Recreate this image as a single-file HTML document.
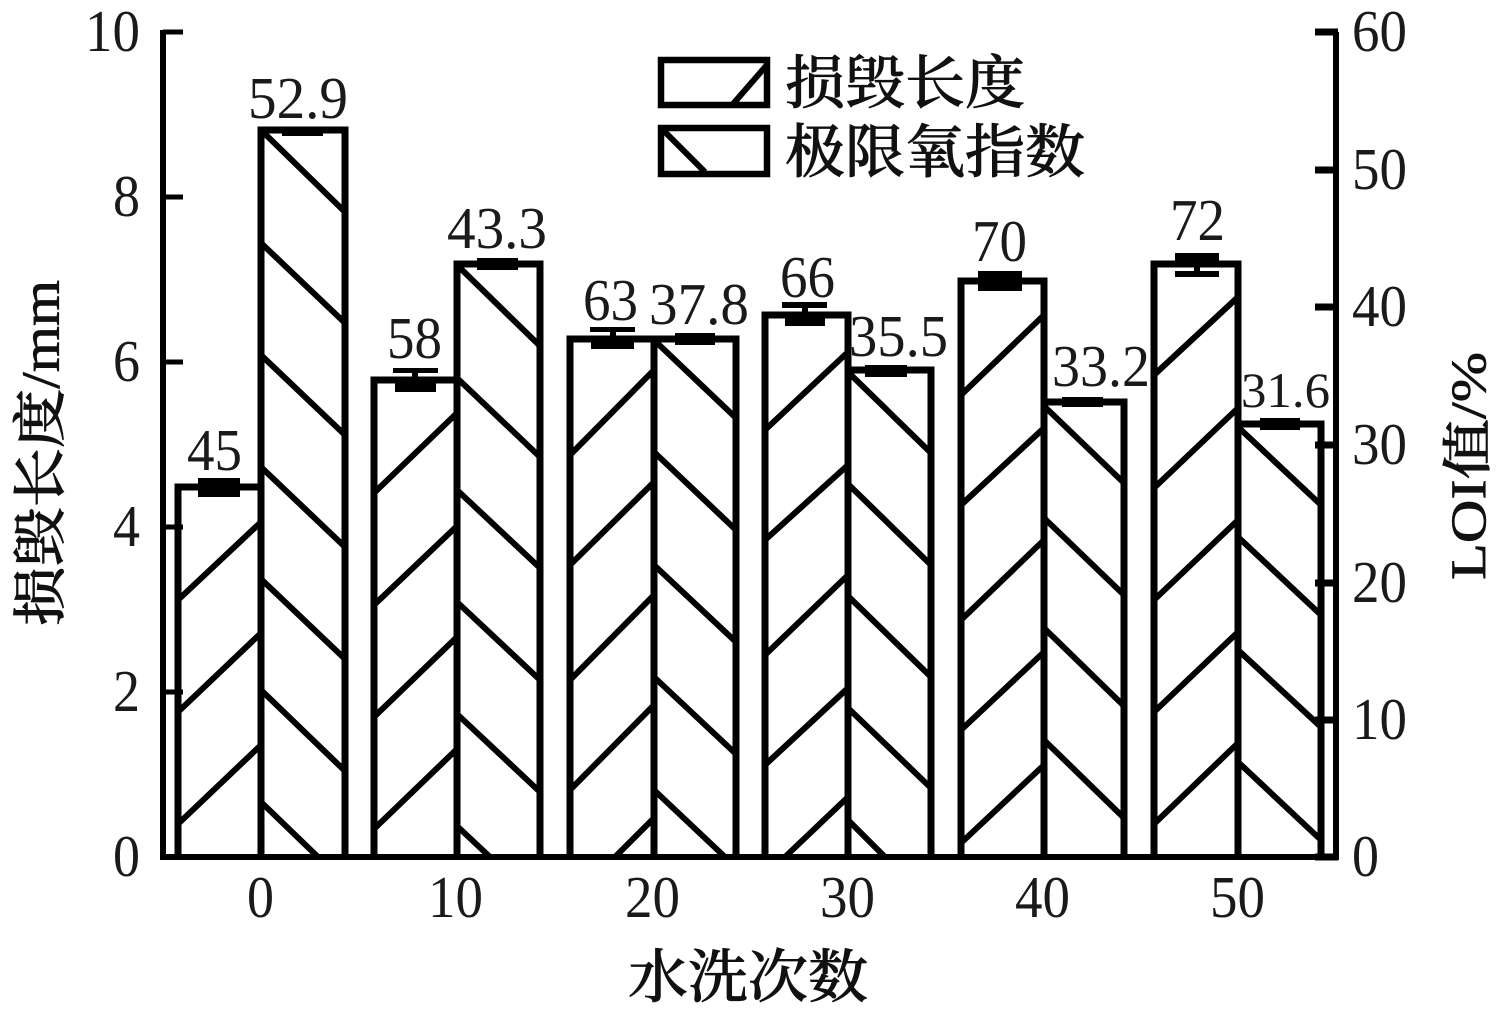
<!DOCTYPE html>
<html><head><meta charset="utf-8"><style>
html,body{margin:0;padding:0;background:#fff;width:1500px;height:1018px;overflow:hidden}
svg{display:block}
.n{font-family:"Liberation Serif","Noto Serif CJK SC",serif;font-size:59px;fill:#1a1a1a}
.c{font-family:"Liberation Serif","Noto Serif CJK SC",serif;font-size:56px;fill:#111;font-weight:500;stroke:#111;stroke-width:.7px}
</style></head><body>
<svg width="1500" height="1018" viewBox="0 0 1500 1018" xmlns="http://www.w3.org/2000/svg">
<rect width="1500" height="1018" fill="#fff"/>
<g stroke="#000" stroke-width="5" fill="none">
<path stroke-width="6" d="M163 30V860M160 857H1339"/>
<path d="M163 32H183M163 197H183M163 362H183M163 527H183M163 692H183"/>
<path stroke-width="6" d="M1336 32V860"/>
<path stroke-width="7" d="M1315 32H1338M1315 170H1338M1315 307H1338M1315 445H1338M1315 583H1338M1315 720H1338M1315 857H1338"/>
</g>
<g stroke="#000" stroke-width="6" fill="none">
<path d="M178 600L261 522M178 712L261 633M178 824L261 745"/>
<path d="M261 130L345 212M261 243L345 323M261 355L345 435M261 467L345 547M261 579L345 659M261 690L345 771M261 802L318 857"/>
<path d="M374 493L457 413M374 605L457 526M374 717L457 637M374 829L457 749"/>
<path d="M457 265L540 346M457 378L540 457M457 490L540 568M457 602L540 680M457 714L540 792M457 826L490 857"/>
<path d="M570 455L654 370M570 565L654 482M570 680L654 595M570 790L654 705M615 857L654 818"/>
<path d="M654 340L736 418M654 452L736 530M654 565L736 642M654 677L736 754M654 790L725 857"/>
<path d="M765 430L848 352M765 540L848 465M765 655L848 575M765 765L848 688M785 857L848 797"/>
<path d="M848 372L931 453M848 484L931 565M848 596L931 677M848 708L931 788M848 820L885 857"/>
<path d="M961 395L1044 315M961 505L1044 428M961 620L1044 540M961 730L1044 652M961 843L1044 765"/>
<path d="M1044 406L1124 483M1044 518L1124 595M1044 628L1124 706M1044 740L1124 818"/>
<path d="M1154 375L1238 297M1154 488L1238 408M1154 600L1238 520M1154 712L1238 632M1154 824L1238 743"/>
<path d="M1238 427L1321 505M1238 537L1321 615M1238 650L1321 727M1238 762L1321 840"/>
</g>
<g stroke="#000" stroke-width="7" fill="none" stroke-linejoin="miter">
<path d="M178 857V487H261V857"/>
<path d="M261 857V130H345V857"/>
<path d="M374 857V380H457V857"/>
<path d="M457 857V264H540V857"/>
<path d="M570 857V339H654V857"/>
<path d="M654 857V339H736V857"/>
<path d="M765 857V315H848V857"/>
<path d="M848 857V370H931V857"/>
<path d="M961 857V281H1044V857"/>
<path d="M1044 857V402H1124V857"/>
<path d="M1154 857V264H1238V857"/>
<path d="M1238 857V424H1321V857"/>
</g>
<g fill="#000">
<rect x="198" y="478" width="42" height="19"/>
<rect x="282" y="127" width="41" height="9"/>
<rect x="393" y="368" width="45" height="5"/><rect x="412" y="368" width="6" height="12"/><rect x="395" y="378" width="41" height="14"/>
<rect x="477" y="258" width="41" height="12"/>
<rect x="590" y="327" width="45" height="5"/><rect x="610" y="327" width="6" height="12"/><rect x="591" y="338" width="43" height="11"/>
<rect x="675" y="333" width="40" height="12"/>
<rect x="782" y="302" width="45" height="6"/><rect x="802" y="302" width="6" height="12"/><rect x="785" y="312" width="40" height="14"/>
<rect x="865" y="365" width="42" height="12"/>
<rect x="978" y="271" width="44" height="20"/>
<rect x="1062" y="397" width="41" height="10"/>
<rect x="1175" y="253" width="44" height="10"/><rect x="1175" y="271" width="44" height="6"/><rect x="1194" y="260" width="6" height="14"/>
<rect x="1260" y="418" width="40" height="12"/>
</g>
<g stroke="#000" fill="#fff" stroke-width="6.500">
<rect x="661" y="60" width="106" height="45"/>
<rect x="661" y="128" width="106" height="46"/>
</g>
<g stroke="#000" stroke-width="6" fill="none">
<path d="M733 104L766 66M664 131L705 172"/>
</g>
<g class="n" lengthAdjust="spacingAndGlyphs">
<text class="n" x="85" y="51" textLength="55" lengthAdjust="spacingAndGlyphs">10</text>
<text class="n" x="113" y="216" textLength="27" lengthAdjust="spacingAndGlyphs">8</text>
<text class="n" x="113" y="381" textLength="27" lengthAdjust="spacingAndGlyphs">6</text>
<text class="n" x="113" y="546" textLength="27" lengthAdjust="spacingAndGlyphs">4</text>
<text class="n" x="113" y="711" textLength="27" lengthAdjust="spacingAndGlyphs">2</text>
<text class="n" x="113" y="876" textLength="27" lengthAdjust="spacingAndGlyphs">0</text>
<text class="n" x="1352" y="51" textLength="55" lengthAdjust="spacingAndGlyphs">60</text>
<text class="n" x="1352" y="189" textLength="55" lengthAdjust="spacingAndGlyphs">50</text>
<text class="n" x="1352" y="326" textLength="55" lengthAdjust="spacingAndGlyphs">40</text>
<text class="n" x="1352" y="464" textLength="55" lengthAdjust="spacingAndGlyphs">30</text>
<text class="n" x="1352" y="602" textLength="55" lengthAdjust="spacingAndGlyphs">20</text>
<text class="n" x="1352" y="739" textLength="55" lengthAdjust="spacingAndGlyphs">10</text>
<text class="n" x="1352" y="876" textLength="27" lengthAdjust="spacingAndGlyphs">0</text>
<text class="n" x="247" y="917" textLength="27" lengthAdjust="spacingAndGlyphs">0</text>
<text class="n" x="428" y="917" textLength="55" lengthAdjust="spacingAndGlyphs">10</text>
<text class="n" x="625" y="917" textLength="55" lengthAdjust="spacingAndGlyphs">20</text>
<text class="n" x="820" y="917" textLength="55" lengthAdjust="spacingAndGlyphs">30</text>
<text class="n" x="1015" y="917" textLength="55" lengthAdjust="spacingAndGlyphs">40</text>
<text class="n" x="1210" y="917" textLength="55" lengthAdjust="spacingAndGlyphs">50</text>
<text class="n" x="187" y="470" textLength="55" lengthAdjust="spacingAndGlyphs">45</text>
<text class="n" x="248" y="118" textLength="100" lengthAdjust="spacingAndGlyphs">52.9</text>
<text class="n" x="387" y="358" textLength="55" lengthAdjust="spacingAndGlyphs">58</text>
<text class="n" x="447" y="248" textLength="100" lengthAdjust="spacingAndGlyphs">43.3</text>
<text class="n" x="583" y="320" textLength="55" lengthAdjust="spacingAndGlyphs">63</text>
<text class="n" x="649" y="324" textLength="100" lengthAdjust="spacingAndGlyphs">37.8</text>
<text class="n" x="780" y="297" textLength="55" lengthAdjust="spacingAndGlyphs">66</text>
<text class="n" x="849" y="356" textLength="99" lengthAdjust="spacingAndGlyphs">35.5</text>
<text class="n" x="972" y="261" textLength="55" lengthAdjust="spacingAndGlyphs">70</text>
<text class="n" x="1052" y="386" textLength="98" lengthAdjust="spacingAndGlyphs">33.2</text>
<text class="n" x="1170" y="240" textLength="55" lengthAdjust="spacingAndGlyphs">72</text>
<text class="n" x="1241" y="407" textLength="89" lengthAdjust="spacingAndGlyphs" style="font-size:50px">31.6</text>
</g>
<text class="c" x="785" y="103" textLength="240" lengthAdjust="spacingAndGlyphs" style="font-size:58px">损毁长度</text>
<text class="c" x="785" y="172" textLength="300" lengthAdjust="spacingAndGlyphs" style="font-size:58px">极限氧指数</text>
<text class="c" x="628" y="997" textLength="240" lengthAdjust="spacingAndGlyphs" style="font-size:58px">水洗次数</text>
<text class="c" transform="translate(59,626) rotate(-90)" textLength="346" lengthAdjust="spacingAndGlyphs" style="font-size:54px">损毁长度/mm</text>
<text class="c" transform="translate(1485,580) rotate(-90)" textLength="228" lengthAdjust="spacingAndGlyphs" style="font-size:50px">LOI值/%</text>
</svg>
</body></html>
